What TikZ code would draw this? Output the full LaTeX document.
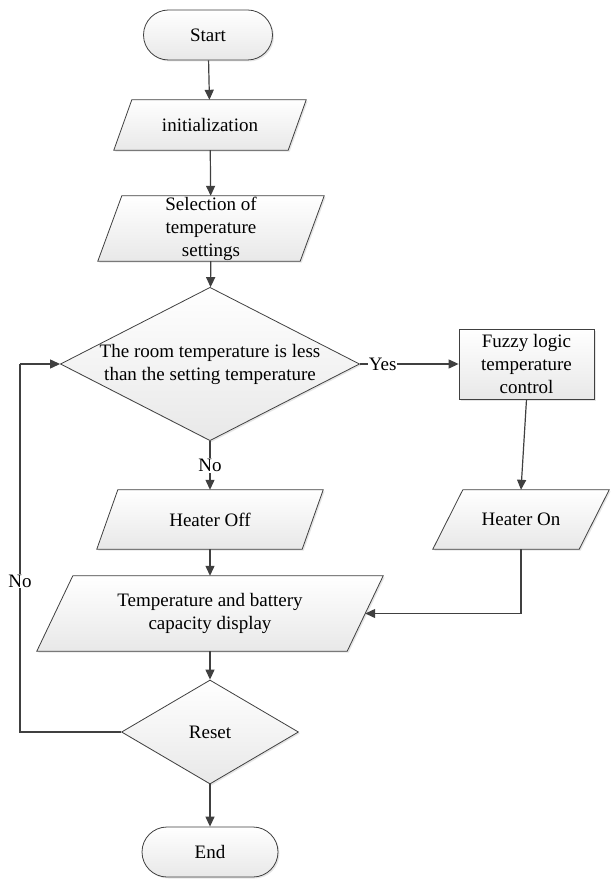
\documentclass[tikz,border=0pt]{standalone}
\usepackage{fontspec}
\setmainfont{Liberation Serif}
\usetikzlibrary{arrows.meta, shapes.geometric, shadows, backgrounds}

\tikzset{
  look/.style={draw=black!75, line width=0.8pt, top color=white, bottom color=black!9,
    drop shadow={shadow xshift=1.5pt, shadow yshift=-1.5pt, opacity=0.2}},
  txt/.style={font=\fontsize{19}{23}\selectfont, align=center, inner sep=0pt},
  box/.style={look, txt},
  terminal/.style={box, rectangle, rounded corners=25pt, minimum width=#1, minimum height=50pt},
  iobox/.style={txt, rectangle, minimum width=#1},
  decision/.style={box, diamond, aspect=1.95},
  process/.style={box, rectangle, minimum width=135pt, minimum height=70pt},
  flow/.style={draw=black!75, line width=1.2pt, -{Triangle[length=10pt,width=9pt]}},
  link/.style={draw=black!75, line width=1.2pt},
  tag/.style={fill=white, inner sep=1pt, font=\fontsize{19}{23}\selectfont}
}

\begin{document}
\begin{tikzpicture}[x=1pt, y=-1pt]
\useasboundingbox (0,0) rectangle (610,882);

% Main column
\node[terminal=129pt] (start) at (208,35) {Start};
\node[iobox=174pt, minimum height=50pt] (init) at (210,125) {initialization};
\node[iobox=202pt, minimum height=65pt] (select) at (211,228.5) {Selection of\\temperature\\settings};
\node[decision] (check) at (210,364) {The room temperature is less\\than the setting temperature};
\node[iobox=205pt, minimum height=59pt] (off) at (210,519.5) {Heater Off};
\node[iobox=310pt, minimum height=75pt] (display) at (210,613.5) {Temperature and battery\\capacity display};
\node[decision, minimum width=177pt, minimum height=104pt] (reset) at (210,732) {Reset};
\node[terminal=136pt] (end) at (210,852) {End};

% Right branch
\node[process] (fuzzy) at (526.5,364) {Fuzzy logic\\temperature\\control};
\node[iobox=146pt, minimum height=59pt] (on) at (521,519.5) {Heater On};

% Page and slanted data boxes behind their texts
\begin{scope}[on background layer]
\fill[white] (0,0) rectangle (610,882);
\foreach \n/\s in {init/18, select/24, off/21, display/36, on/30}
  \path[look] ([xshift={-\s/2}]\n.south west) -- ([xshift={-\s/2}]\n.south east)
    -- ([xshift={\s/2}]\n.north east) -- ([xshift={\s/2}]\n.north west) -- cycle;
\end{scope}

% Loop corners
\coordinate (loopbot) at (20,732);
\coordinate (looptop) at (20,364);

% Connectors
\draw[flow] (start) -- (init);
\draw[flow] (init) -- (select);
\draw[flow] (select) -- (check);
\draw[flow] (check.east) -- node[tag, pos=0.23] {Yes} (fuzzy.west);
\draw[flow] (check.south) -- node[tag] {No} (off.north);
\draw[flow] (fuzzy.south) -- (on.north);
\draw[flow] (off) -- (display);
\draw[flow] (on.south) |- (display.east);
\draw[flow] (display) -- (reset);
\draw[flow] (reset) -- (end);
\draw[link] (reset.west) -- (loopbot) -- node[tag, pos=0.41] {No} (looptop);
\draw[flow] (looptop) -- (check.west);
\end{tikzpicture}
\end{document}
